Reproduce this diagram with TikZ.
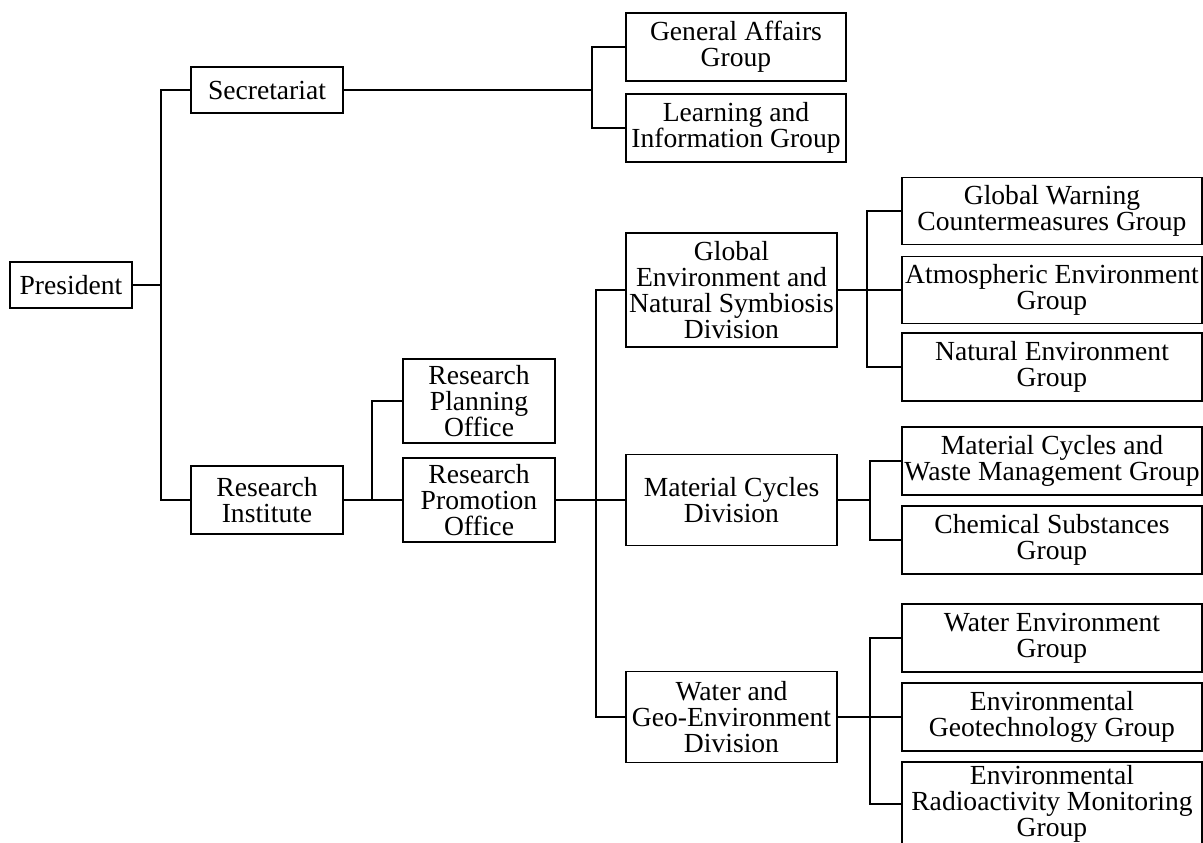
\documentclass[tikz,border=0pt]{standalone}
\usepackage{fontspec}
\setmainfont{Liberation Serif}
\usetikzlibrary{positioning}

\begin{document}
\begin{tikzpicture}[x=1pt,y=-1pt,line width=1.6pt,
    unit/.style={draw,rectangle,align=center,inner sep=1pt,font=\fontsize{27.6}{26}\selectfont},
    office/.style={unit,minimum width=152pt},
    sgroup/.style={unit,minimum width=220pt,minimum height=68pt},
    division/.style={unit,minimum width=211pt},
    rgroup/.style={unit,minimum width=300pt,minimum height=68pt}]
    \clip (0,0) rectangle (1203,843);

    \node[unit,minimum width=122pt,minimum height=46pt] (pres) at (71,285) {President};

    \node[office,minimum height=46pt] (secr) at (267,90) {Secretariat};
    \node[office,minimum height=68pt] (resinst) at (267,500) {Research\\Institute};
    \node[office,minimum height=84pt] (resplan) at (479,401) {Research\\Planning\\Office};
    \node[office,minimum height=84pt] (resprom) at (479,500) {Research\\Promotion\\Office};

    \node[sgroup] (genaff) at (736,47) {General Affairs\\Group};
    \node[sgroup] (learn) at (736,128) {Learning and\\Information Group};

    \node[division,minimum height=114pt] (globdiv) at (731.5,290) {Global\\Environment and\\Natural Symbiosis\\Division};
    \node[division,minimum height=91pt] (matdiv) at (731.5,500) {Material Cycles\\Division};
    \node[division,minimum height=91pt] (waterdiv) at (731.5,717) {Water and\\Geo-Environment\\Division};

    \node[rgroup,minimum height=67pt] (warn) at (1052,211) {Global Warning\\Countermeasures Group};
    \node[rgroup,minimum height=67pt] (atmos) at (1052,290) {Atmospheric Environment\\Group};
    \node[rgroup] (natural) at (1052,367) {Natural Environment\\Group};
    \node[rgroup] (mcwm) at (1052,461) {Material Cycles and\\Waste Management Group};
    \node[rgroup] (chem) at (1052,540) {Chemical Substances\\Group};
    \node[rgroup] (waterenv) at (1052,638) {Water Environment\\Group};
    \node[rgroup] (geotech) at (1052,717) {Environmental\\Geotechnology Group};
    \node[rgroup,minimum height=84pt] (radio) at (1052,804) {Environmental\\Radioactivity Monitoring\\Group};

    % vertical bus lines
    \coordinate (presbus) at (161,0);
    \coordinate (secbus) at (592,0);
    \coordinate (instbus) at (372,0);
    \coordinate (divbus) at (596,0);
    \coordinate (globbus) at (867,0);
    \coordinate (matbus) at (870,0);
    \coordinate (waterbus) at (870,0);

    \foreach \bus/\from/\to in {presbus/secr/resinst,secbus/genaff/learn,instbus/resplan/resprom,divbus/globdiv/waterdiv,globbus/warn/natural,matbus/mcwm/chem,waterbus/waterenv/radio}
    \draw (\from.west) -- (\from.west -| \bus) -- (\to.west -| \bus) -- (\to.west);

    \draw (pres.east) -- (pres.east -| presbus);
    \draw (secr.east) -- (secr.east -| secbus);
    \draw (resinst.east) -- (resprom.west);
    \draw (resprom.east) -- (matdiv.west);
    \draw (globdiv.east) -- (atmos.west);
    \draw (matdiv.east) -- (matdiv.east -| matbus);
    \draw (waterdiv.east) -- (geotech.west);
\end{tikzpicture}
\end{document}
